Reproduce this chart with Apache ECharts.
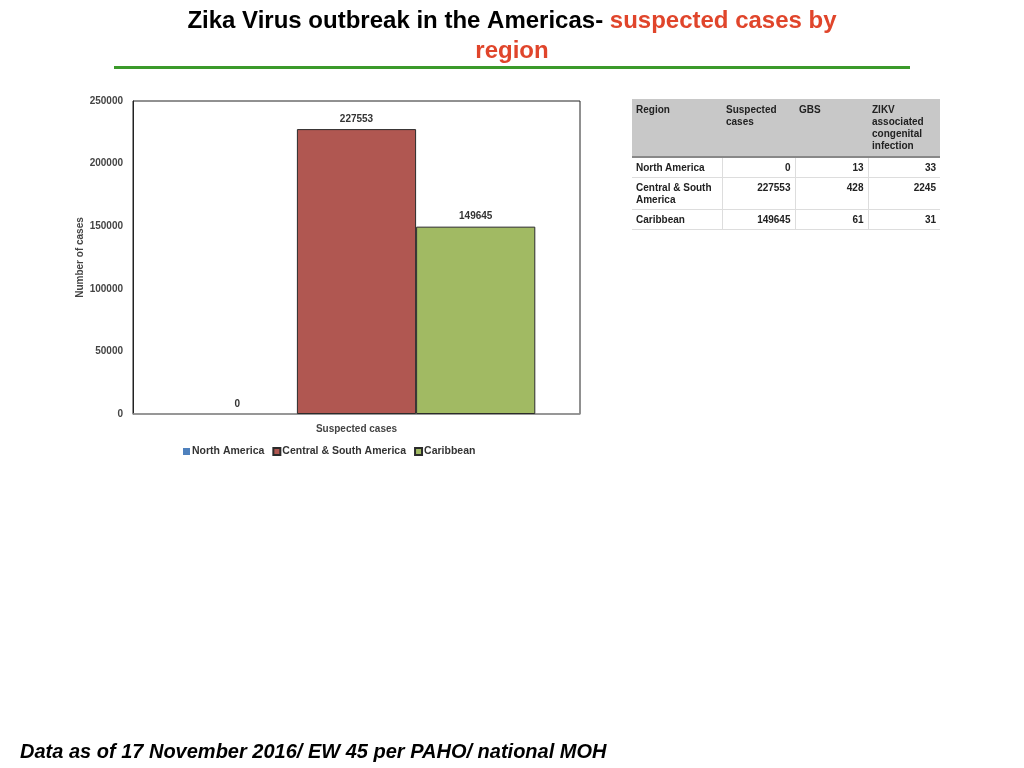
<!DOCTYPE html>
<html>
<head>
<meta charset="utf-8">
<script src="https://cdn.jsdelivr.net/npm/echarts@6/dist/echarts.min.js"></script>
<style>
  body { margin: 0; background: #fff; }
  #main { width: 1024px; height: 768px; position: absolute; left: 0; top: 0; }
  #tbl { position: absolute; left: 632px; top: 99px; border-collapse: collapse;
         font-family: "Liberation Sans", Arial, sans-serif; font-size: 10px; font-weight: bold; color: #222; }
  #tbl th { background: #c8c8c8; text-align: left; vertical-align: top; padding: 5px 4px 4px 4px;
            border-bottom: 2px solid #888; font-weight: bold; line-height: 12px; height: 47px; }
  #tbl td { padding: 4px 4px 3px 4px; border-bottom: 1px solid #ddd; border-right: 1px solid #ddd;
            vertical-align: top; line-height: 12px; }
  #tbl td:last-child { border-right: none; }
  #tbl td.num { text-align: right; }
</style>
</head>
<body>
<div id="main"></div>
<table id="tbl"></table>
<script>
// chart data
var regions = ["North America", "Central & South America", "Caribbean"];
var suspected = [0, 227553, 149645];
var gbs = [13, 428, 61];
var zikv = [33, 2245, 31];
var tableHeaders = ["Region", "Suspected cases", "GBS", "ZIKV associated congenital infection"];
var categories = ["Suspected cases"];
var colors = ["#4f81bd", "#b05751", "#a1ba63"];

// table
var tbl = document.getElementById("tbl");
var colW = [82, 65, 65, 64];
var html = "<tr>";
tableHeaders.forEach(function (h, i) {
    html += "<th style=\"width:" + colW[i] + "px\">" + h + "</th>";
});
html += "</tr>";
regions.forEach(function (r, i) {
    html += "<tr><td>" + r + "</td><td class=\"num\">" + suspected[i] + "</td><td class=\"num\">" +
        gbs[i] + "</td><td class=\"num\">" + zikv[i] + "</td></tr>";
});
tbl.innerHTML = html;

var chart = echarts.init(document.getElementById("main"));
var font = "Liberation Sans";

var series = regions.map(function (name, i) {
    return {
        name: name,
        type: "bar",
        barGap: 0,
        barCategoryGap: "20%",
        data: [suspected[i]],
        itemStyle: {
            color: colors[i],
            borderColor: "#2b2b2b",
            borderWidth: suspected[i] > 0 ? 1 : 0
        },
        label: {
            show: true,
            position: "top",
            distance: 5,
            fontFamily: font,
            fontSize: 10,
            fontWeight: "bold",
            color: "#333"
        }
    };
});

var titleStyle = { fontFamily: font, fontSize: 24, fontWeight: "bold" };

var option = {
    backgroundColor: "#fff",
    animation: false,
    textStyle: { fontFamily: font },
    graphic: [
        {
            type: "text",
            left: "center",
            top: 9,
            style: {
                text: "{a|Zika Virus outbreak in the Americas- }{b|suspected cases by}",
                rich: {
                    a: Object.assign({ fill: "#000" }, titleStyle),
                    b: Object.assign({ fill: "#e0452b" }, titleStyle)
                }
            }
        },
        {
            type: "text",
            left: "center",
            top: 39,
            style: Object.assign({ text: "region", fill: "#e0452b" }, titleStyle)
        },
        {
            type: "rect",
            shape: { x: 114, y: 66, width: 796, height: 3 },
            style: { fill: "#3b9a2a" }
        },
        {
            type: "text",
            left: 20,
            top: 742,
            style: {
                text: "Data as of 17 November 2016/ EW 45 per PAHO/ national MOH",
                fontFamily: font,
                fontSize: 20,
                fontWeight: "bold",
                fontStyle: "italic",
                fill: "#000"
            }
        }
    ],
    legend: {
        data: regions,
        left: 178,
        top: 441,
        icon: "rect",
        itemWidth: 7,
        itemHeight: 7,
        itemGap: 8,
        textStyle: { fontFamily: font, fontSize: 10.5, fontWeight: "bold", color: "#333", padding: [0, 0, 0, -3] }
    },
    grid: {
        left: 133,
        top: 101,
        right: 444,
        bottom: 354,
        show: true,
        borderColor: "#222",
        borderWidth: 1
    },
    xAxis: {
        type: "category",
        data: categories,
        axisLine: { lineStyle: { color: "#999", width: 1.5 } },
        axisTick: { show: false },
        axisLabel: { fontFamily: font, fontSize: 10, fontWeight: "bold", color: "#444", margin: 10 }
    },
    yAxis: {
        type: "value",
        min: 0,
        max: 250000,
        interval: 50000,
        name: "Number of cases",
        nameLocation: "middle",
        nameGap: 46,
        nameTextStyle: { fontFamily: font, fontSize: 10, fontWeight: "bold", color: "#444" },
        axisLine: { show: true, lineStyle: { color: "#222" } },
        axisTick: { show: false },
        splitLine: { show: false },
        axisLabel: {
            fontFamily: font, fontSize: 10, fontWeight: "bold", color: "#444", margin: 10,
            formatter: function (v) { return String(v); }
        }
    },
    series: series
};

chart.setOption(option);
</script>
</body>
</html>
